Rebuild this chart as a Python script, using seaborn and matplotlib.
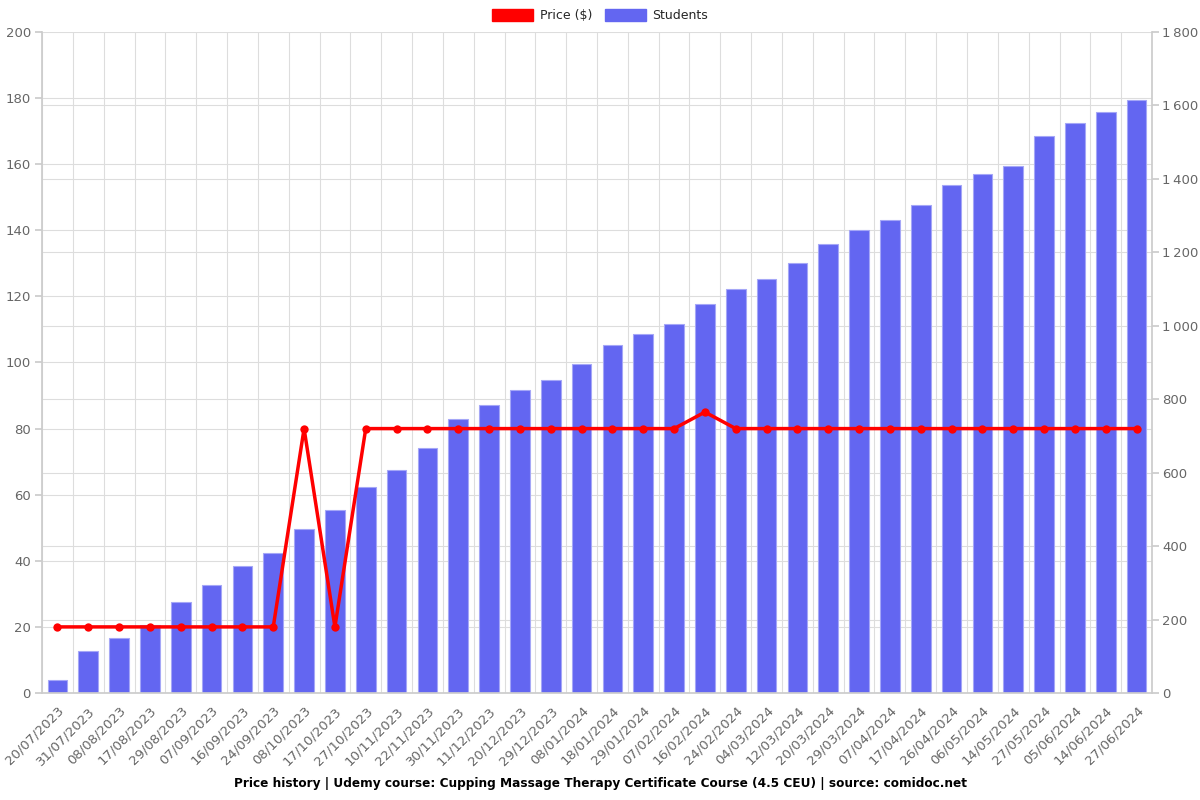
import numpy as np
import pandas as pd
import matplotlib
matplotlib.use("Agg")
import matplotlib.pyplot as plt
from matplotlib.patches import Patch
from matplotlib.ticker import FuncFormatter, MultipleLocator
import seaborn as sns

dates = ["20/07/2023", "31/07/2023", "08/08/2023", "17/08/2023", "29/08/2023", "07/09/2023",
         "16/09/2023", "24/09/2023", "08/10/2023", "17/10/2023", "27/10/2023", "10/11/2023",
         "22/11/2023", "30/11/2023", "11/12/2023", "20/12/2023", "29/12/2023", "08/01/2024",
         "18/01/2024", "29/01/2024", "07/02/2024", "16/02/2024", "24/02/2024", "04/03/2024",
         "12/03/2024", "20/03/2024", "29/03/2024", "07/04/2024", "17/04/2024", "26/04/2024",
         "06/05/2024", "14/05/2024", "27/05/2024", "05/06/2024", "14/06/2024", "27/06/2024"]
students = [36, 114, 150, 185, 247, 294, 345, 382, 446, 497, 561, 608,
            668, 747, 783, 826, 851, 896, 948, 977, 1006, 1058, 1101, 1128,
            1171, 1224, 1260, 1289, 1328, 1382, 1413, 1435, 1517, 1551, 1582, 1616]
price = [20, 20, 20, 20, 20, 20, 20, 20, 80, 20, 80, 80,
         80, 80, 80, 80, 80, 80, 80, 80, 80, 85, 80, 80,
         80, 80, 80, 80, 80, 80, 80, 80, 80, 80, 80, 80]

title = "Price history | Udemy course: Cupping Massage Therapy Certificate Course (4.5 CEU) | source: comidoc.net"

sns.set_theme(style="white")
plt.rcParams['font.family'] = ['DejaVu Sans']

df = pd.DataFrame({"date": dates, "students": students, "price": price, "idx": np.arange(len(dates))})

fig = plt.figure(figsize=(12, 8), dpi=100)
ax = fig.add_axes([0.035, 0.13375, 0.925, 0.82625])
bar_color = "#6366F1"
sns.barplot(data=df, x="date", y="students", ax=ax, color=bar_color, width=0.64,
            edgecolor="#a5a7f7", linewidth=0.8, saturation=1)
n = len(dates)

ax2 = ax.twinx()
sns.lineplot(data=df, x="idx", y="price", ax=ax2, color="#ff0000", linewidth=2.5,
             marker="o", markersize=6, markeredgewidth=0, solid_joinstyle="miter")

ax.set_xlim(-0.5, n - 0.5)
ax.set_ylim(0, 1800)
ax.set_xlabel("")
ax.set_ylabel("")
ax.yaxis.tick_right()
ax.yaxis.set_label_position("right")
ax.yaxis.set_major_locator(MultipleLocator(200))
ax.yaxis.set_minor_locator(MultipleLocator(180))
ax.yaxis.set_major_formatter(FuncFormatter(lambda v, p: f"{int(v):,}".replace(",", "\u2009")))
ax.set_xticks(np.arange(n))
ax.set_xticklabels(dates, rotation=45, ha="right", rotation_mode="anchor")
ax.set_xticks(np.arange(n + 1) - 0.5, minor=True)
ax.tick_params(axis="x", which="major", length=0, labelsize=9.5, labelcolor="#666666", pad=8)
ax.tick_params(axis="x", which="minor", length=5, color="#cccccc")
ax.tick_params(axis="y", which="major", length=5, color="#cccccc", labelsize=9.5,
               labelcolor="#666666", pad=2.5)
ax.tick_params(axis="y", which="minor", length=0)
ax.set_axisbelow(True)
ax.grid(True, which="major", axis="y", color="#dddddd", linewidth=0.8)
ax.grid(True, which="minor", axis="y", color="#dddddd", linewidth=0.8)
ax.grid(True, which="minor", axis="x", color="#dddddd", linewidth=0.8)
ax.grid(False, which="major", axis="x")
for s in ["left", "right", "bottom"]:
    ax.spines[s].set_color("#cccccc")
ax.spines["top"].set_visible(False)

ax2.set_ylim(0, 200)
ax2.set_xlim(-0.5, n - 0.5)
ax2.yaxis.tick_left()
ax2.yaxis.set_major_locator(MultipleLocator(20))
ax2.tick_params(axis="y", length=5, color="#cccccc", labelsize=9.5, labelcolor="#666666", pad=3)
ax2.set_xlabel("")
ax2.set_ylabel("")
ax2.grid(False)
for s in ax2.spines.values():
    s.set_visible(False)

handles = [Patch(facecolor="#ff0000", edgecolor="#ff0000", label="Price ($)"),
           Patch(facecolor=bar_color, edgecolor=bar_color, label="Students")]
fig.legend(handles=handles, loc="upper center", bbox_to_anchor=(0.5, 1.003), ncol=2, frameon=False,
           handlelength=3.3, handleheight=1.1, fontsize=9, columnspacing=1.0, handletextpad=0.5)

fig.text(0.5, 0.021, title, ha="center", va="center", fontsize=8.7, fontweight="bold", color="#000000")

fig.savefig("out.png", dpi=100)
